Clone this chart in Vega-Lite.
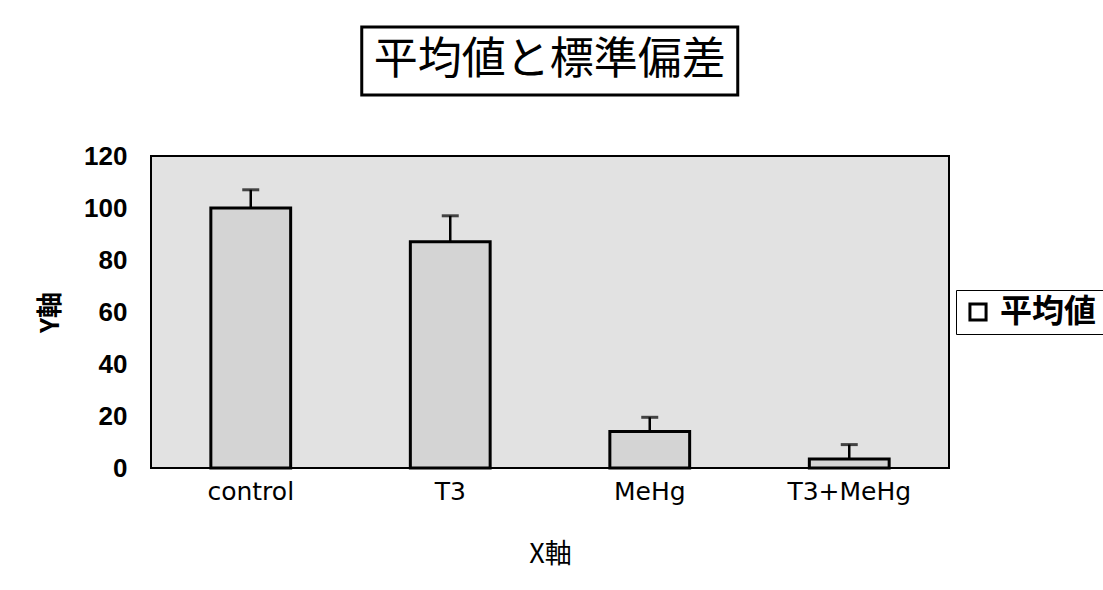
{
  "$schema": "https://vega.github.io/schema/vega-lite/v6.json",
  "padding": {"left": 36, "top": 25, "right": 0, "bottom": 10},
  "background": "white",
  "center": true,
  "spacing": 45,
  "vconcat": [
    {
      "width": 376,
      "height": 68,
      "view": {"stroke": "black", "strokeWidth": 3, "fill": "white"},
      "data": {"values": [{"t": "平均値と標準偏差"}]},
      "mark": {"type": "text", "fontSize": 44, "font": "Noto Sans CJK JP", "baseline": "middle", "align": "center", "color": "black"},
      "encoding": {"text": {"field": "t", "type": "nominal"}}
    },
    {
      "width": 798,
      "height": 312,
      "view": {"stroke": "black", "strokeWidth": 2, "fill": "#e2e2e2"},
      "data": {"values": [
        {"group": "control", "mean": 100, "upper": 107, "series": "平均値"},
        {"group": "T3", "mean": 87, "upper": 97, "series": "平均値"},
        {"group": "MeHg", "mean": 14, "upper": 19.5, "series": "平均値"},
        {"group": "T3+MeHg", "mean": 3.5, "upper": 9, "series": "平均値"}
      ]},
      "encoding": {
        "x": {
          "field": "group", "type": "nominal", "sort": null,
          "scale": {"paddingInner": 0.6, "paddingOuter": 0.3},
          "axis": {
            "title": "X軸", "labelAngle": 0, "domain": false, "ticks": false,
            "labelPadding": 11, "labelFontSize": 25, "labelFont": "DejaVu Sans",
            "labelColor": "black", "titleFontSize": 27, "titleFont": "Noto Sans CJK JP",
            "titleFontWeight": "normal", "titleColor": "black", "titlePadding": 37
          }
        }
      },
      "layer": [
        {
          "mark": {"type": "bar", "fill": "#d4d4d4", "stroke": "black", "strokeWidth": 3},
          "encoding": {
            "y": {
              "field": "mean", "type": "quantitative",
              "scale": {"domain": [0, 120]},
              "axis": {
                "title": "Y軸", "values": [0, 20, 40, 60, 80, 100, 120], "grid": false,
                "domain": false, "ticks": false, "labelPadding": 24,
                "labelFontSize": 26, "labelFont": "Liberation Sans", "labelFontWeight": "bold",
                "labelColor": "black", "titleFontSize": 26, "titleFont": "Noto Sans CJK JP",
                "titleFontWeight": "bold", "titleColor": "black", "titlePadding": 20
              }
            }
          }
        },
        {
          "mark": {"type": "rule", "strokeWidth": 2.5},
          "encoding": {
            "y": {"field": "mean", "type": "quantitative"},
            "y2": {"field": "upper"},
            "stroke": {
              "field": "series", "type": "nominal", "scale": {"range": ["black"]},
              "legend": {
                "title": null, "orient": "none", "legendX": 805, "legendY": 263,
                "strokeColor": "black", "padding": 6, "symbolType": "square",
                "symbolSize": 260, "labelFontSize": 32, "labelFont": "Noto Sans CJK JP",
                "labelFontWeight": "bold", "labelColor": "black", "labelOffset": 6,
                "symbolFillColor": "white", "symbolStrokeWidth": 3
              }
            }
          }
        },
        {
          "mark": {"type": "tick", "orient": "horizontal", "size": 17, "thickness": 3, "color": "black"},
          "encoding": {
            "y": {"field": "upper", "type": "quantitative"}
          }
        }
      ]
    }
  ]
}
